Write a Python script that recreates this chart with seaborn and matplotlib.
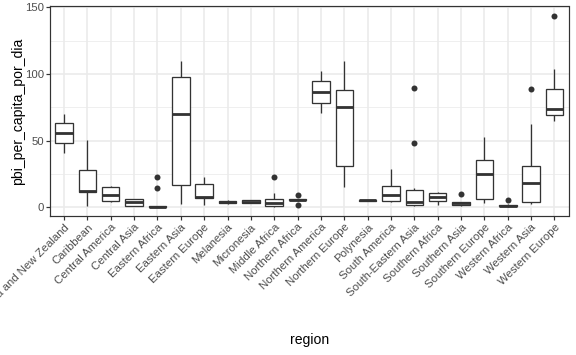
import numpy as np
import pandas as pd
import seaborn as sns
import matplotlib.pyplot as plt
from matplotlib.ticker import MultipleLocator

# regions on the x axis (alphabetical, as in the reference)
regions = [
    'Australia and New Zealand', 'Caribbean', 'Central America', 'Central Asia',
    'Eastern Africa', 'Eastern Asia', 'Eastern Europe', 'Melanesia', 'Micronesia',
    'Middle Africa', 'Northern Africa', 'Northern America', 'Northern Europe',
    'Polynesia', 'South America', 'South-Eastern Asia', 'Southern Africa',
    'Southern Asia', 'Southern Europe', 'Western Africa', 'Western Asia',
    'Western Europe',
]

# pbi per capita por dia, values (whiskers, quartiles, outliers)
pbi_values = [
    [41, 48, 55.5, 63, 70],                                   # Australia and New Zealand
    [1.2, 11.2, 12.5, 28, 50.5],                              # Caribbean
    [4, 4.7, 9, 15, 16],                                      # Central America
    [0.8, 1.2, 3.7, 6, 6.5],                                  # Central Asia
    [0.2, 0.3, 0.3, 0.5, 0.6, 0.9, 1.2, 14.7, 22.5],          # Eastern Africa
    [2.5, 16.5, 70, 98, 110],                                 # Eastern Asia
    [1.7, 7.2, 8, 17.5, 23],                                  # Eastern Europe
    [2.8, 3.2, 4.2, 4.8, 5.2],                                # Melanesia
    [3, 3.2, 4, 5.2, 5.6],                                    # Micronesia
    [0.3, 0.5, 0.8, 2, 3.5, 4.5, 6, 11, 22.7],                # Middle Africa
    [2, 5.0, 5.2, 5.5, 5.7, 6.0, 6.2, 6.5, 9],                # Northern Africa
    [70.5, 78.5, 86.7, 94.7, 102],                            # Northern America
    [15, 31, 75.5, 88.2, 109.7],                              # Northern Europe
    [4.9, 5.0, 5.2, 5.4, 5.5],                                # Polynesia
    [4, 4.5, 9, 16.2, 29],                                    # South America
    [0.9, 1.2, 1.4, 1.5, 2, 3, 3.7, 5, 9, 12.7, 14.2, 48, 89.7],  # South-Eastern Asia
    [2, 4.5, 8, 10.5, 11.3],                                  # Southern Africa
    [1, 1.3, 1.5, 2.5, 3, 3.8, 4.2, 4.3, 10.2],               # Southern Asia
    [3, 6, 24.7, 35.7, 53],                                   # Southern Europe
    [0.5, 0.7, 0.8, 1.0, 1.2, 1.4, 1.7, 2.2, 5.5],            # Western Africa
    [2.5, 3.5, 4.2, 10, 18.5, 25, 31.2, 62.7, 89],            # Western Asia
    [65, 67, 69, 71, 73.5, 80, 88.7, 103.7, 143.7],           # Western Europe
]

df = pd.DataFrame({
    'region': np.repeat(regions, [len(v) for v in pbi_values]),
    'pbi_per_capita_por_dia': np.concatenate(pbi_values),
})

sns.set_theme(style='white')
plt.rcParams['font.family'] = ['Liberation Sans', 'DejaVu Sans']

fig = plt.figure(figsize=(8, 355 / 72), dpi=72)
ax = fig.add_axes([50 / 576, 1 - 216 / 355, 518.5 / 576, 210 / 355])

dark = '#333333'
sns.boxplot(data=df, x='region', y='pbi_per_capita_por_dia', order=regions,
            color='white', linecolor=dark, linewidth=1.3, width=0.75,
            showcaps=False, saturation=1, ax=ax,
            medianprops={'linewidth': 2.8, 'color': dark},
            flierprops={'marker': 'o', 'markersize': 6,
                        'markerfacecolor': dark, 'markeredgecolor': dark,
                        'markeredgewidth': 0})

ax.set_xlim(-0.6, len(regions) - 0.4)
ax.set_ylim(-6.5, 151)
ax.yaxis.set_major_locator(MultipleLocator(50))
ax.yaxis.set_minor_locator(MultipleLocator(25))

ax.set_axisbelow(True)
ax.grid(True, which='major', color='#EBEBEB', linewidth=1.6)
ax.grid(True, which='minor', axis='y', color='#EBEBEB', linewidth=0.8)
for s in ax.spines.values():
    s.set_color(dark)
    s.set_linewidth(1.2)

ax.tick_params(axis='both', which='major', length=3.6, width=1.2, color=dark,
               labelsize=11.4, labelcolor='#4D4D4D', pad=2.5, left=True, bottom=True)
ax.tick_params(axis='y', which='minor', length=0)
plt.setp(ax.get_xticklabels(), rotation=45, ha='right', rotation_mode='anchor')

ax.set_xlabel('region', fontsize=14, color='black', va='center')
ax.xaxis.set_label_coords(0.5, (216 - 340) / 210)
ax.set_ylabel('pbi_per_capita_por_dia', fontsize=14, color='black', va='center')
ax.yaxis.set_label_coords((18 - 50) / 518.5, 0.5)

fig.savefig('out.png', dpi=72)
